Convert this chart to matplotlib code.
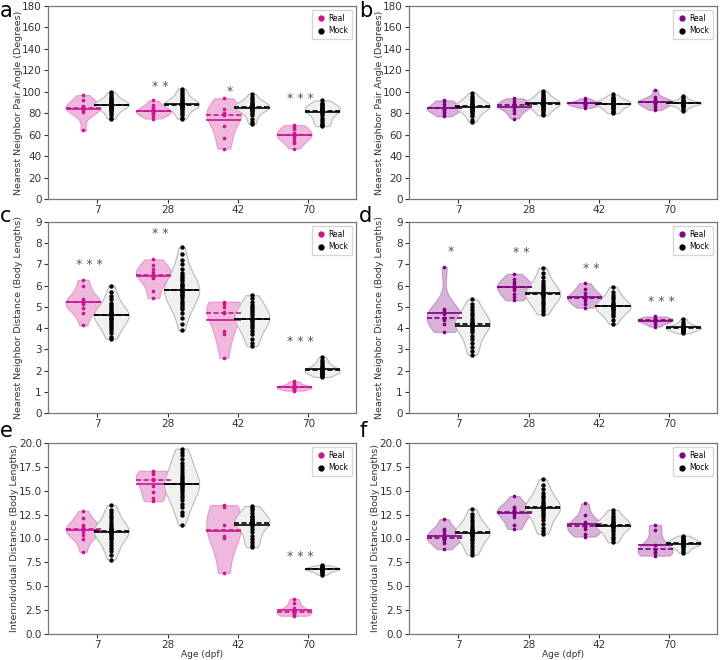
import numpy as np
import matplotlib
matplotlib.use('Agg')
from matplotlib import pyplot as plt
from matplotlib.colors import to_rgba
from matplotlib.lines import Line2D

plt.rcParams['font.family'] = ['DejaVu Sans']

ages = ['7', '28', '42', '70']

# a: nearest neighbor pair angle (left set)
angle_real_a = [[64, 81, 83, 84, 85, 86, 87, 92, 97],
                [75, 77, 79, 80, 81, 82, 83, 84, 86, 88, 92],
                [47, 57, 68, 78, 79, 80, 84, 94],
                [47, 52, 55, 58, 59, 60, 62, 65, 67, 69]]
angle_mock_a = [[75, 76, 78, 80, 82, 83, 84, 85, 86, 86, 87, 87, 88, 88, 88, 89, 89, 90, 90, 91, 92, 93, 94, 96, 98, 100],
                [75, 76, 78, 80, 82, 84, 85, 86, 87, 87, 88, 88, 88, 89, 89, 90, 90, 91, 92, 93, 95, 97, 99, 101, 103],
                [70, 72, 75, 78, 80, 82, 83, 84, 85, 85, 86, 86, 86, 87, 87, 88, 89, 90, 91, 93, 95, 98],
                [68, 69, 70, 72, 74, 76, 78, 80, 81, 82, 82, 83, 83, 84, 85, 86, 87, 88, 89, 90, 92]]
stars_a = [(1, '* *', 105), (2, '*', 100), (3, '* * *', 94)]

# b: nearest neighbor pair angle (right set)
angle_real_b = [[77, 79, 81, 83, 84, 84.5, 85, 86, 89, 91, 92],
                [75, 80, 83, 85.5, 87, 87.5, 88, 90, 91, 94],
                [85, 86.5, 87.5, 88.5, 89, 89.2, 89.5, 90.5, 92, 94],
                [83, 85, 87, 88.5, 89.5, 90, 90.5, 91, 92, 93, 95, 102]]
angle_mock_b = [[72, 74, 77, 79, 81, 82, 83, 84, 85, 86, 86, 87, 87, 88, 88, 89, 90, 91, 92, 94, 96, 99],
                [78, 79, 81, 83, 84, 85, 86, 87, 88, 88.5, 89, 89, 89.5, 90, 90.5, 91, 92, 93, 94, 95, 97, 99, 101],
                [80, 81, 82, 84, 85, 86, 87, 88, 88.5, 89, 89, 89.5, 90, 90.5, 91, 92, 93, 94, 95.5, 97.5],
                [82, 84, 86, 87, 88, 88.5, 89, 89, 89, 89.5, 89.5, 90, 90, 90.5, 91, 92, 94, 96]]
stars_b = []

# c: nearest neighbor distance (left set)
nnd_real_c = [[4.13, 4.71, 4.96, 5.15, 5.2, 5.23, 5.3, 5.39, 6.0, 6.28],
              [5.42, 5.75, 6.35, 6.41, 6.49, 6.64, 6.8, 6.96, 7.24],
              [2.6, 3.7, 3.85, 4.7, 4.75, 5.0, 5.15, 5.25],
              [1.05, 1.1, 1.15, 1.2, 1.2, 1.22, 1.25, 1.3, 1.4, 1.5]]
nnd_mock_c = [[3.5, 3.6, 3.75, 3.9, 4.0, 4.1, 4.2, 4.3, 4.4, 4.45, 4.5, 4.55, 4.6, 4.6, 4.65, 4.7, 4.75, 4.8, 4.9, 5.0, 5.1, 5.2, 5.35, 5.5, 5.7, 6.0],
              [3.9, 4.2, 4.5, 4.7, 4.9, 5.0, 5.1, 5.2, 5.3, 5.4, 5.5, 5.55, 5.6, 5.7, 5.75, 5.8, 5.85, 5.9, 6.0, 6.05, 6.1, 6.2, 6.3, 6.4, 6.5, 6.6, 6.8, 7.0, 7.2, 7.5, 7.8],
              [3.15, 3.3, 3.5, 3.7, 3.85, 4.0, 4.1, 4.2, 4.3, 4.4, 4.45, 4.45, 4.5, 4.6, 4.7, 4.8, 4.9, 5.0, 5.1, 5.25, 5.4, 5.55],
              [1.7, 1.75, 1.8, 1.85, 1.9, 1.95, 1.98, 2.0, 2.0, 2.02, 2.05, 2.1, 2.15, 2.2, 2.3, 2.4, 2.5, 2.65]]
stars_c = [(0, '* * *', 7.0), (1, '* *', 8.45), (3, '* * *', 3.35)]

# d: nearest neighbor distance (right set)
nnd_real_d = [[3.82, 4.2, 4.37, 4.45, 4.5, 4.65, 4.8, 4.92, 6.88],
              [5.31, 5.47, 5.62, 5.78, 5.9, 5.94, 6.1, 6.17, 6.33, 6.56],
              [4.96, 5.12, 5.3, 5.39, 5.42, 5.5, 5.65, 5.86, 6.12],
              [4.07, 4.2, 4.28, 4.33, 4.36, 4.4, 4.45, 4.5, 4.55]]
nnd_mock_d = [[2.75, 2.9, 3.1, 3.3, 3.5, 3.65, 3.8, 3.9, 4.0, 4.1, 4.15, 4.2, 4.2, 4.25, 4.3, 4.4, 4.5, 4.6, 4.7, 4.85, 5.0, 5.15, 5.35],
              [4.65, 4.8, 4.95, 5.1, 5.2, 5.3, 5.4, 5.5, 5.55, 5.6, 5.6, 5.65, 5.7, 5.8, 5.9, 6.0, 6.1, 6.2, 6.4, 6.6, 6.85],
              [4.2, 4.4, 4.55, 4.65, 4.75, 4.85, 4.92, 4.98, 5.0, 5.02, 5.05, 5.1, 5.15, 5.25, 5.35, 5.45, 5.55, 5.7, 5.95],
              [3.75, 3.82, 3.88, 3.92, 3.96, 3.98, 4.0, 4.0, 4.02, 4.05, 4.08, 4.12, 4.2, 4.3, 4.45]]
stars_d = [(0, '*', 7.6), (1, '* *', 7.55), (2, '* *', 6.8), (3, '* * *', 5.25)]

# e: interindividual distance (left set)
iid_real_e = [[8.6, 9.9, 10.4, 10.7, 10.96, 11.0, 11.17, 11.4, 12.1, 12.9],
              [13.9, 14.2, 14.9, 15.5, 16.1, 16.2, 16.8, 17.0, 17.1],
              [6.4, 10.1, 10.3, 11.4, 13.3, 13.5],
              [1.9, 2.0, 2.2, 2.25, 2.3, 2.45, 2.7, 3.2, 3.7]]
iid_mock_e = [[7.8, 8.3, 8.7, 9.0, 9.3, 9.6, 9.9, 10.1, 10.3, 10.5, 10.6, 10.7, 10.8, 10.8, 10.9, 11.0, 11.1, 11.3, 11.5, 11.8, 12.1, 12.4, 12.7, 13.0, 13.5],
              [11.4, 12.5, 12.8, 13.3, 13.6, 14.0, 14.3, 14.6, 14.9, 15.1, 15.3, 15.5, 15.6, 15.7, 15.8, 16.0, 16.2, 16.4, 16.7, 17.0, 17.3, 17.6, 17.9, 18.3, 18.7, 19.1, 19.4],
              [9.1, 9.3, 9.6, 9.9, 10.3, 10.7, 11.0, 11.3, 11.5, 11.6, 11.65, 11.7, 11.8, 11.9, 12.0, 12.2, 12.4, 12.7, 13.0, 13.2, 13.4],
              [6.2, 6.35, 6.5, 6.6, 6.7, 6.75, 6.8, 6.8, 6.85, 6.9, 6.95, 7.0, 7.1, 7.2]]
stars_e = [(3, '* * *', 8.15)]

# f: interindividual distance (right set)
iid_real_f = [[8.87, 9.5, 9.84, 10.0, 10.1, 10.47, 10.8, 11.0, 12.03],
              [10.99, 11.4, 12.2, 12.6, 12.8, 13.0, 13.15, 13.3, 14.43],
              [10.2, 10.43, 10.96, 11.17, 11.3, 11.4, 11.76, 12.45, 13.67],
              [8.2, 8.5, 8.63, 8.8, 8.9, 9.32, 10.89, 11.44]]
iid_mock_f = [[8.3, 8.6, 8.9, 9.2, 9.5, 9.8, 10.0, 10.2, 10.4, 10.5, 10.6, 10.7, 10.75, 10.8, 10.9, 11.1, 11.3, 11.6, 11.9, 12.2, 12.6, 13.1],
              [10.5, 10.8, 11.1, 11.5, 11.9, 12.2, 12.5, 12.7, 12.9, 13.1, 13.2, 13.3, 13.35, 13.4, 13.5, 13.7, 13.9, 14.2, 14.5, 14.8, 15.2, 15.6, 16.2],
              [9.6, 9.9, 10.2, 10.5, 10.8, 11.0, 11.2, 11.3, 11.35, 11.4, 11.5, 11.6, 11.7, 11.9, 12.1, 12.4, 12.7, 13.0],
              [8.5, 8.7, 8.9, 9.1, 9.2, 9.3, 9.4, 9.45, 9.5, 9.5, 9.55, 9.6, 9.7, 9.8, 9.9, 10.0, 10.15, 10.3]]
stars_f = []

magenta = '#cc1590'
purple = '#800080'
lab_angle = 'Nearest Neighbor Pair Angle (Degrees)'
lab_nnd = 'Nearest Neighbor Distance (Body Lengths)'
lab_iid = 'Interindividual Distance (Body Lengths)'


def draw_panel(ax, real, mock, color, stars, ylim, yticks, ylabel, fmt, label_x):
    pos = np.arange(len(ages))
    groups = [(real, -0.2, to_rgba(color, 0.3), to_rgba(color, 0.3), color, color, 7),
              (mock, 0.2, (0.94, 0.94, 0.94, 1), (0.7, 0.7, 0.7, 0.9), 'k', 'k', 10)]
    for data, off, face, edge, dotc, linec, size in groups:
        vp = ax.violinplot(data, positions=pos + off, widths=0.5, showextrema=False)
        for b in vp['bodies']:
            b.set_alpha(None)
            b.set_facecolor(face)
            b.set_edgecolor(edge)
            b.set_linewidth(0.8)
        for p, d in zip(pos + off, data):
            ax.hlines(np.mean(d), p - 0.25, p + 0.25, color=linec, lw=1.2, zorder=3)
            ax.hlines(np.median(d), p - 0.25, p + 0.25, color=linec, lw=1.2, ls=(0, (3, 1.5)), zorder=3)
            ax.scatter(np.full(len(d), p), d, s=size, color=dotc, lw=0, zorder=4)
    for i, txt, y in stars:
        ax.text(i - 0.11, y, txt, ha='center', va='center', fontsize=9, color='#555555')
    ax.set_xlim(-0.7, 3.68)
    ax.set_ylim(*ylim)
    ax.set_xticks(pos)
    ax.set_xticklabels(ages)
    ax.set_yticks(yticks)
    ax.set_yticklabels([fmt % t for t in yticks])
    ax.tick_params(labelsize=7.5, colors='#333333', length=3, width=0.8, pad=1.5)
    for s in ax.spines.values():
        s.set_color('#777777')
        s.set_linewidth(0.9)
    ax.set_ylabel(ylabel, fontsize=6.8, color='#333333')
    ax.yaxis.set_label_coords(label_x, 0.5)
    handles = [Line2D([], [], marker='o', ls='', color=color, markersize=3.5, label='Real'),
               Line2D([], [], marker='o', ls='', color='k', markersize=3.5, label='Mock')]
    ax.legend(handles=handles, loc='upper right', fontsize=5.5, handletextpad=0.2,
              borderpad=0.5, labelspacing=0.5, handlelength=1.5)


fig = plt.figure(figsize=(7.2, 6.6), dpi=100)

col_left = [48 / 720, 409 / 720]
col_w = 308 / 720
row_bottom = [1 - 199 / 660, 1 - 413 / 660, 1 - 634 / 660]
row_h = [193 / 660, 191 / 660, 191 / 660]
row_label_x = [-0.082, -0.082, -0.095]

panels = [
    ('a', 0, 0, angle_real_a, angle_mock_a, magenta, stars_a, (0, 180), np.arange(0, 181, 20), lab_angle, '%d'),
    ('b', 0, 1, angle_real_b, angle_mock_b, purple, stars_b, (0, 180), np.arange(0, 181, 20), lab_angle, '%d'),
    ('c', 1, 0, nnd_real_c, nnd_mock_c, magenta, stars_c, (0, 9), np.arange(0, 10, 1), lab_nnd, '%d'),
    ('d', 1, 1, nnd_real_d, nnd_mock_d, purple, stars_d, (0, 9), np.arange(0, 10, 1), lab_nnd, '%d'),
    ('e', 2, 0, iid_real_e, iid_mock_e, magenta, stars_e, (0, 20), np.arange(0, 20.1, 2.5), lab_iid, '%.1f'),
    ('f', 2, 1, iid_real_f, iid_mock_f, purple, stars_f, (0, 20), np.arange(0, 20.1, 2.5), lab_iid, '%.1f'),
]
letter_y = [1 - 17 / 660, 1 - 222 / 660, 1 - 437 / 660]
letter_x = [0, 359 / 720]

for letter, r, c, real, mock, color, stars, ylim, yticks, ylabel, fmt in panels:
    ax = fig.add_axes([col_left[c], row_bottom[r], col_w, row_h[r]])
    draw_panel(ax, real, mock, color, stars, ylim, yticks, ylabel, fmt, row_label_x[r])
    if r == 2:
        ax.set_xlabel('Age (dpf)', fontsize=6.5, color='#333333', labelpad=0)
    fig.text(letter_x[c], letter_y[r], letter, fontsize=15, va='baseline', ha='left')

fig.savefig('out.png', dpi=100)
